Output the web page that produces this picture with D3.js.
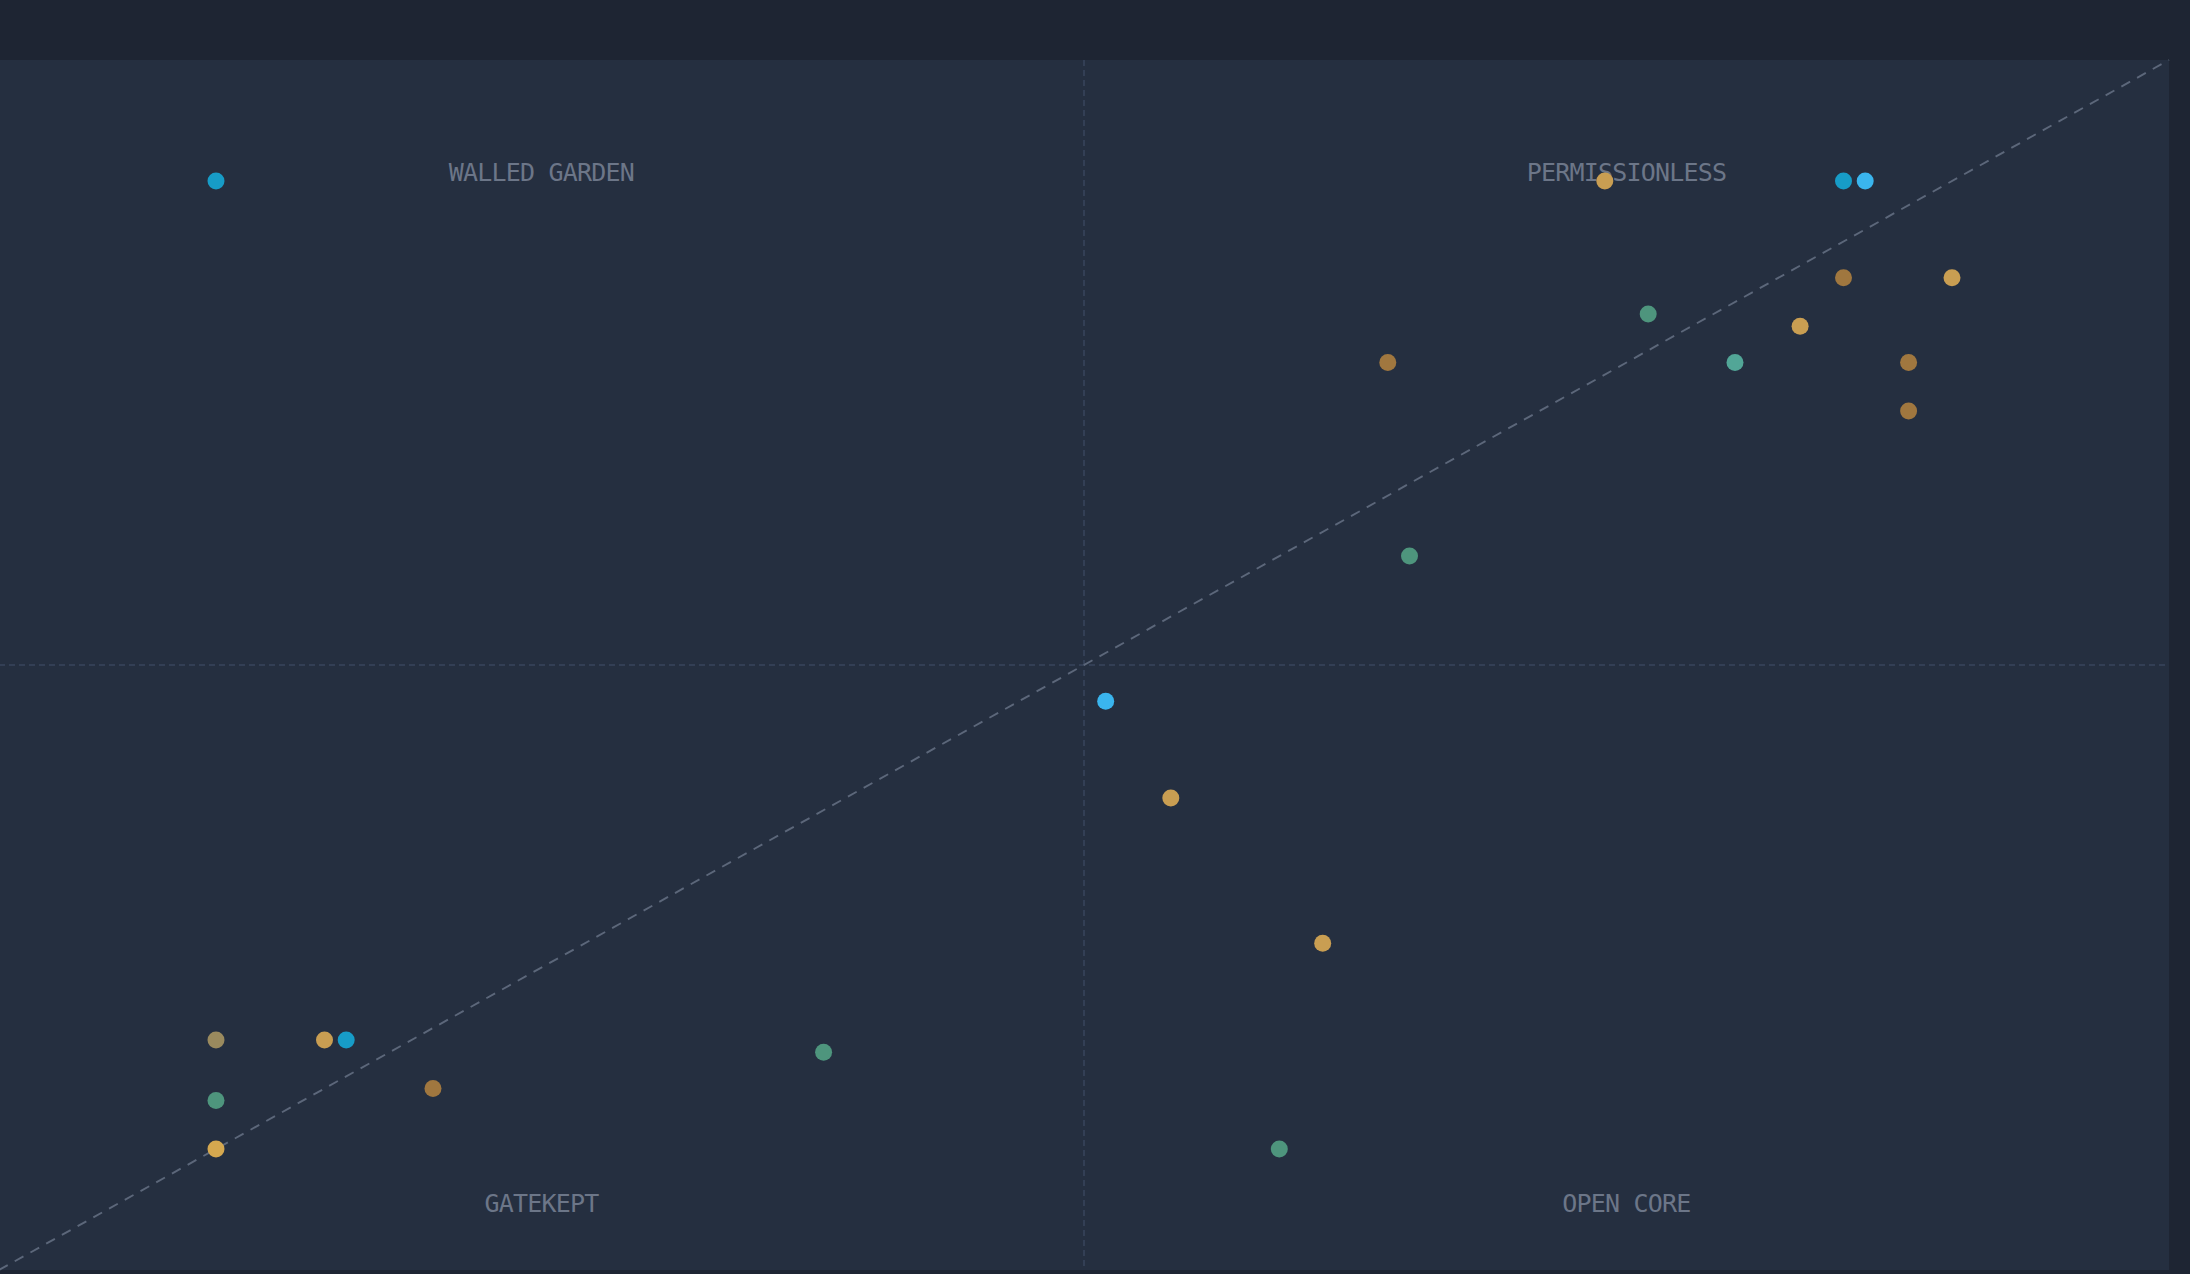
<!DOCTYPE html>
<html>
<head>
<meta charset="utf-8">
<script src="https://cdn.jsdelivr.net/npm/d3@7"></script>
<style>
  html, body { margin: 0; padding: 0; background: #1e2533; overflow: hidden; }
  svg { display: block; }
</style>
</head>
<body>
<svg id="chart" width="2190" height="1274"></svg>
<script>
// ---- data ----
const pointX     = [10, 74, 85, 86, 85, 90, 76, 83, 64, 80, 88, 88, 65, 51, 54, 61, 10, 15, 16, 38, 20, 10, 10, 59];
const pointY     = [90, 90, 90, 90, 82, 82, 79, 78, 75, 75, 75, 71, 59, 47, 39, 27, 19, 19, 19, 18, 15, 14, 10, 10];
const pointGroup = ["cyan","gold","cyan","sky","brown","gold","green","gold","brown","teal","brown","brown","green","sky","gold","gold","olive","gold","cyan","green","brown","green","amber","green"];
const groupNames  = ["cyan","sky","gold","amber","brown","green","teal","olive"];
const groupColors = ["#179cc7","#3ab5ee","#c99e52","#d5a84f","#a0773f","#4e957d","#52a697","#9a8a5e"];
const quadLabels  = ["WALLED GARDEN","PERMISSIONLESS","GATEKEPT","OPEN CORE"];
const quadLabelX  = [25, 75, 25, 75];
const quadLabelY  = [90, 90, 4.8, 4.8];
const xDomain = [0, 100];
const yDomain = [0, 100];
const midValue = 50;

// ---- layout ----
const W = 2190, H = 1274;
const plot = { left: -1, top: 60, right: 2169, bottom: 1270 };

const svg = d3.select("#chart");

svg.append("rect").attr("x", 0).attr("y", 0).attr("width", W).attr("height", H).attr("fill", "#1e2533");
svg.append("rect")
  .attr("x", 0).attr("y", plot.top)
  .attr("width", plot.right).attr("height", plot.bottom - plot.top)
  .attr("fill", "#252f40");

const x = d3.scaleLinear().domain(xDomain).range([plot.left, plot.right]);
const y = d3.scaleLinear().domain(yDomain).range([plot.bottom, plot.top]);
const color = d3.scaleOrdinal().domain(groupNames).range(groupColors);

// quadrant dividers
svg.append("line")
  .attr("x1", x(midValue)).attr("x2", x(midValue))
  .attr("y1", y(yDomain[1])).attr("y2", y(yDomain[0]))
  .attr("stroke", "#38455c").attr("stroke-width", 1.5).attr("stroke-dasharray", "6,4");
svg.append("line")
  .attr("x1", x(xDomain[0])).attr("x2", x(xDomain[1]))
  .attr("y1", y(midValue)).attr("y2", y(midValue))
  .attr("stroke", "#38455c").attr("stroke-width", 1.5).attr("stroke-dasharray", "6,4");

// diagonal parity line
svg.append("line")
  .attr("x1", x(xDomain[0])).attr("y1", y(yDomain[0]))
  .attr("x2", x(xDomain[1])).attr("y2", y(yDomain[1]))
  .attr("stroke", "#5c677a").attr("stroke-width", 1.9).attr("stroke-dasharray", "10,8");

// quadrant labels
svg.append("g").selectAll("text")
  .data(quadLabels)
  .join("text")
  .attr("x", (d, i) => x(quadLabelX[i]))
  .attr("y", (d, i) => y(quadLabelY[i]))
  .attr("text-anchor", "middle")
  .attr("font-family", "'DejaVu Sans Mono', 'Liberation Mono', monospace")
  .attr("font-size", 25)
  .attr("letter-spacing", "-0.8px")
  .attr("fill", "#6c7688")
  .text(d => d);

// points
const pts = pointX.map((v, i) => ({ x: v, y: pointY[i], g: pointGroup[i] }));
svg.append("g").selectAll("circle")
  .data(pts)
  .join("circle")
  .attr("cx", d => x(d.x))
  .attr("cy", d => y(d.y))
  .attr("r", 8.5)
  .attr("fill", d => color(d.g));
</script>
</body>
</html>
